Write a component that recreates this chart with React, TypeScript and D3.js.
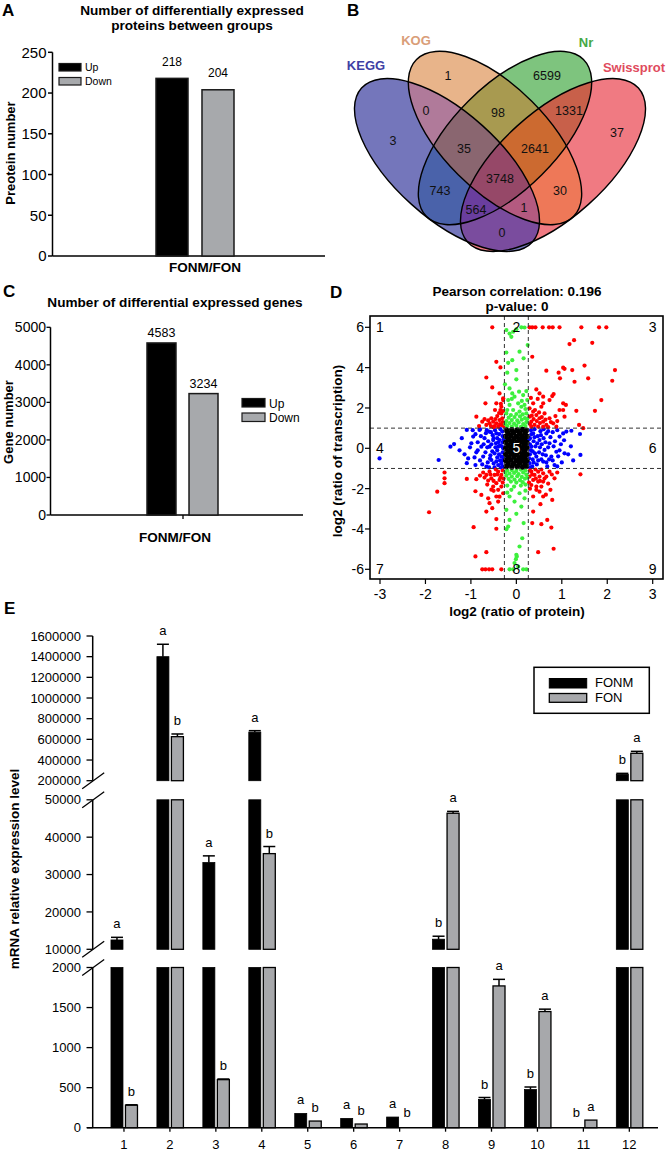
import React from "react";
import * as d3 from "d3";

const FONT = "Liberation Sans, Arial, Helvetica, sans-serif";

// ---------- Panel A data ----------
const protGroups = ["Up", "Down"];
const protCounts = [218, 204];
const protTicks = [0, 50, 100, 150, 200, 250];

// ---------- Panel C data ----------
const geneGroups = ["Up", "Down"];
const geneCounts = [4583, 3234];
const geneTicks = [0, 1000, 2000, 3000, 4000, 5000];

const groupFill: Record<string, string> = { Up: "#000000", Down: "#a7a9ac" };

// ---------- Panel B data ----------
const vennSets = ["KEGG", "KOG", "Nr", "Swissprot"];
const vennLabelColor = ["#4040a4", "#d99d78", "#45a845", "#e04b5d"];
const vennRegionNames = [
  "KEGG", "KOG", "KEGG&KOG", "KOG&Nr", "Nr", "Nr&Swissprot", "Swissprot",
  "KEGG&KOG&Nr", "KOG&Nr&Swissprot", "KEGG&KOG&Nr&Swissprot", "KEGG&Nr", "KOG&Swissprot",
  "KEGG&Nr&Swissprot", "KEGG&KOG&Swissprot", "KEGG&Swissprot",
];
const vennCounts = [3, 1, 0, 98, 6599, 1331, 37, 35, 2641, 3748, 743, 30, 564, 1, 0];
const vennRegionColor = [
  "#7476bb", "#e8b48a", "#b07a9a", "#a89a50", "#7ec47e", "#c8604a", "#f07a82",
  "#8a6670", "#cc6a30", "#964868", "#4a62aa", "#ee7858", "#6a3e9e", "#b45a80", "#7a4c9e",
];

// ---------- Panel D data (log2 protein ratio, log2 transcription ratio) ----------
const redPoints: [number, number][] = [
  [-0.53, 6], [0.29, 6], [0.35, 6], [0.42, 6], [0.58, 6], [0.72, 6], [0.8, 6], [0.95, 6], [1.43, 6], [1.82, 6], [1.98, 6],
  [1.17, 5.17], [1.27, 5.36], [1.67, 5.23], [0.35, 4.54], [-0.44, 4.29], [-0.35, 4.01], [1.03, 4.0], [1.06, 3.94],
  [0.66, 3.85], [1.23, 3.88], [1.5, 4.1], [2.17, 3.88], [0.93, 3.75], [0.96, 3.47], [1.28, 3.3], [1.58, 3.47],
  [2.11, 3.35], [-0.66, 3.51], [-0.53, 3.02], [-0.37, 2.72], [0.44, 2.92], [0.51, 2.72], [0.59, 2.56], [0.79, 2.59],
  [0.82, 2.69], [1.03, 2.23], [1.09, 2.15], [1.87, 2.39], [1.73, 1.86], [-0.68, 2.23], [-0.88, 1.57], [0.95, 1.9],
  [1.32, 1.86], [1.06, 1.57], [1.38, 1.16], [1.47, 1.0], [-0.29, 2.48], [0.59, 2.23], [0.73, 2.39], [1.03, 1.9],
  [-0.44, 2.23], [-0.33, 2.06], [-0.55, 1.49], [-0.51, 1.32], [-0.44, 1.24], [-0.37, 1.4], [-0.33, 1.73], [-0.4, 1.07],
  [-0.48, 1.1], [-0.59, 1.24], [-0.66, 1.16], [-0.75, 1.32], [-0.33, 1.16], [-0.31, 1.49], [-0.35, 1.9], [-0.29, 2.39],
  [-0.42, 1.6], [-0.3, 1.3], [-0.5, 1.05], [-0.28, 1.1],
  [-0.36, 1.2], [-0.46, 1.45], [-0.56, 1.1], [-0.62, 1.38], [-0.7, 1.45], [-0.82, 1.1], [-0.38, 1.75], [-0.47, 1.9],
  [-0.29, 1.85], [-0.34, 2.2],
  [0.29, 1.98], [0.37, 1.82], [0.44, 1.65], [0.51, 1.49], [0.59, 1.32], [0.66, 1.16], [0.33, 1.32], [0.4, 1.16],
  [0.48, 1.07], [0.29, 1.57], [0.62, 1.73], [0.73, 1.49], [0.37, 2.23], [0.55, 2.06], [0.81, 1.24], [0.88, 1.07],
  [0.33, 1.07], [0.59, 1.07], [0.3, 1.2], [0.45, 1.35], [0.7, 1.05], [0.52, 1.25], [0.38, 1.45],
  [0.34, 1.62], [0.41, 1.9], [0.5, 1.78], [0.56, 1.55], [0.64, 1.42], [0.76, 1.3], [0.86, 1.6], [0.32, 2.5],
  [0.47, 2.45], [0.9, 1.35],
  [-0.4, -1.16], [-0.48, -1.32], [-0.55, -1.49], [-0.37, -1.57], [-0.44, -1.73], [-0.51, -1.9], [-0.33, -1.9],
  [-0.4, -2.06], [-0.66, -1.32], [-0.73, -1.2], [-0.33, -1.32], [-0.29, -2.23], [-0.59, -1.16], [-0.3, -1.1],
  [-0.45, -1.05], [-0.62, -1.6], [-0.28, -1.5],
  [-0.35, -1.45], [-0.42, -1.3], [-0.5, -1.62], [-0.57, -1.3], [-0.64, -1.8], [-0.7, -1.45], [-0.8, -1.35],
  [-0.3, -1.7], [-0.37, -2.4], [-0.55, -2.05],
  [0.33, -1.16], [0.4, -1.32], [0.48, -1.16], [0.59, -1.24], [0.66, -1.4], [0.37, -1.57], [0.48, -1.65], [0.59, -1.65],
  [0.33, -1.82], [0.44, -2.06], [0.73, -1.16], [0.84, -1.49], [0.29, -1.4], [0.51, -1.4], [0.37, -2.39], [0.3, -1.1],
  [0.42, -1.05], [0.55, -1.05], [0.28, -1.7],
  [0.35, -1.3], [0.43, -1.5], [0.52, -1.62], [0.62, -1.5], [0.7, -1.75], [0.78, -1.3], [0.9, -1.2], [0.3, -2.0],
  [0.55, -1.9], [0.65, -2.3],
  [-0.88, -1.53], [-1.09, -1.52], [-1.58, -1.2], [-1.58, -1.49], [-1.58, -1.73], [-1.74, -2.15], [-1.92, -3.17],
  [-0.9, -2.13], [-0.94, -3.91], [-0.9, -5.36], [-0.66, -5.15], [-0.66, -3.14], [-0.53, -2.97], [-0.44, -3.51],
  [-0.44, -3.99], [-0.77, -2.31], [-0.62, -2.48], [-0.59, -2.72], [-0.5, -2.11], [-0.4, -2.64], [-0.44, -2.39],
  [-0.75, -6], [-0.68, -6], [-0.6, -6], [-0.53, -6], [-0.33, -6], [0.35, -3.71], [0.55, -3.76], [0.68, -3.55],
  [0.77, -3.93], [0.82, -4.98], [0.48, -5.15], [0.53, -2.77], [0.59, -2.39], [0.75, -2.06], [0.79, -2.56],
  [0.37, -3.14], [0.44, -1.9], [0.51, -2.15], [1.41, -1.29],
];
const greenPoints: [number, number][] = [
  [-0.22, 5.86], [-0.15, 5.69], [-0.07, 5.78], [0, 5.9], [0.11, 6], [0.18, 5.99], [-0.11, 5.53], [0.25, 5.12],
  [-0.22, 4.75], [0.07, 4.79], [-0.09, 4.37], [0.16, 4.46], [-0.18, 4.24], [0, 3.88], [-0.2, 3.75], [0, 3.42],
  [-0.25, 3.17], [-0.15, 2.97], [-0.09, 2.72], [0.06, 2.81], [0.15, 2.64], [-0.04, 2.56], [-0.18, 2.39], [0.22, 2.84],
  [0.24, 2.39], [-0.15, 2.15], [0.04, 2.23], [0.11, 2.06], [0.18, 2.15], [-0.07, 1.9], [0.07, 1.82], [-0.22, 1.73],
  [0.22, 1.73], [-0.2, 1.1], [-0.1, 1.08], [0, 1.12], [0.1, 1.06], [0.2, 1.1], [-0.15, 1.25], [-0.05, 1.22],
  [0.05, 1.28], [0.15, 1.2], [-0.22, 1.35], [-0.1, 1.4], [0.02, 1.38], [0.12, 1.42], [0.22, 1.3], [-0.17, 1.52],
  [-0.04, 1.55], [0.08, 1.58], [0.19, 1.5], [-0.12, 1.65], [0, 1.7], [0.14, 1.68], [-0.24, 1.2], [0.24, 1.45],
  [-0.2, 1.9], [0.2, 1.95], [0.12, 2.35], [-0.1, 2.45],
  [-0.2, -1.1], [-0.1, -1.08], [0, -1.12], [0.1, -1.06], [0.2, -1.1], [-0.15, -1.25], [-0.05, -1.22], [0.05, -1.28],
  [0.15, -1.2], [-0.22, -1.35], [-0.1, -1.4], [0.02, -1.38], [0.12, -1.42], [0.22, -1.3], [-0.17, -1.52],
  [-0.04, -1.55], [0.08, -1.58], [0.19, -1.5], [-0.12, -1.65], [0, -1.7], [0.14, -1.68], [-0.24, -1.2],
  [0.24, -1.45], [-0.2, -1.85], [0.1, -1.85], [-0.05, -1.9], [0.2, -1.8],
  [-0.11, -2.06], [0.07, -2.23], [-0.15, -2.39], [0.18, -2.48], [-0.04, -2.64], [-0.22, -3.05], [0.11, -2.89],
  [0, -3.25], [-0.15, -3.55], [0.16, -3.71], [-0.22, -4.01], [-0.18, -3.88], [0.13, -4.46], [0.07, -4.87],
  [0, -5.28], [0.01, -5.36], [-0.01, -5.5], [-0.15, -6], [-0.07, -6], [0.15, -6], [0.22, -6], [0.04, -5.86],
  [-0.04, -5.69], [-0.2, -2.2], [0.2, -2.1],
];
const bluePoints: [number, number][] = [
  [-3.01, -0.5], [-1.71, -0.58], [-1.37, 0.21], [-1.45, 0.08], [-1.09, 0.91], [-1.14, -0.3], [-1.06, -0.5],
  [-1.09, -0.74], [-0.99, 0.25], [-0.95, 0.58], [-0.9, -0.83], [-0.88, -0.2], [-0.81, 0.91], [-0.77, 0.08],
  [-0.73, -0.41], [-0.7, 0.5], [-0.66, -0.91], [-0.6, 0.83], [-0.59, 0.08], [-0.55, -0.58], [-0.51, 0.41],
  [-0.48, -0.25], [-0.44, 0.74], [-0.4, 0.08], [-0.4, -0.83], [-0.37, 0.41], [-0.33, -0.41], [-0.31, 0.83],
  [-0.29, 0], [-0.3, 0.6], [-0.3, 0.3], [-0.3, -0.2], [-0.3, -0.6], [-0.3, -0.9], [-0.35, 0.95], [-0.36, 0.15],
  [-0.36, -0.6], [-0.42, 0.5], [-0.42, -0.1], [-0.42, -0.45], [-0.45, 0.25], [-0.47, 0.9], [-0.5, -0.75],
  [-0.52, 0.65], [-0.55, 0.2], [-0.57, -0.35], [-0.62, 0.35], [-0.63, -0.7], [-0.67, 0.75], [-0.68, -0.2],
  [-0.72, 0.2], [-0.78, 0.6], [-0.8, -0.6], [-0.85, 0.3], [-0.92, -0.45], [-0.96, 0.9], [-1.02, 0.05],
  [-0.34, -0.95], [-0.6, -0.95], [-0.8, 0.95], [-0.48, -0.95], [-0.28, 0.45], [-0.28, -0.45], [-0.32, 0.1],
  [-0.33, -0.75], [-0.38, 0.7], [-0.38, -0.3], [-0.4, 0.3], [-0.44, -0.65], [-0.46, 0.05], [-0.5, 0.5],
  [-0.53, -0.15], [-0.56, 0.8], [-0.58, -0.5], [-0.64, 0.05],
  [-0.75, -0.8], [-0.85, -0.1], [-1.2, 0.5], [-1.25, -0.1], [-0.9, 0.7], [-0.65, 0.9],
  [1.03, 0.74], [1.1, 0.83], [1.21, 0.87], [1.4, 0.71], [1.41, -0.33], [1.06, -0.25], [1.14, -0.3], [0.88, -0.17],
  [0.95, 0.58], [0.84, -0.83], [0.77, -0.41], [0.73, 0.25], [0.66, 0.74], [0.62, -0.08], [0.59, -0.66],
  [0.51, 0.41], [0.44, -0.41], [0.37, 0.74], [0.33, 0.08], [0.29, -0.74], [0.3, 0.5], [0.3, 0.2], [0.3, -0.3],
  [0.3, -0.95], [0.32, 0.9], [0.36, -0.15], [0.36, -0.55], [0.38, 0.35], [0.4, 0.95], [0.42, 0.1], [0.45, -0.8],
  [0.47, 0.6], [0.5, -0.2], [0.53, 0.85], [0.55, -0.55], [0.56, 0.2], [0.6, 0.5], [0.65, -0.35], [0.68, -0.9],
  [0.7, 0.05], [0.75, 0.55], [0.8, -0.6], [0.85, 0.35], [0.9, 0.9], [0.92, -0.4], [0.98, 0.2], [1.0, -0.7],
  [0.35, -0.9], [0.6, 0.95], [0.8, 0.8], [0.28, 0.45], [0.28, -0.5], [0.32, -0.1], [0.33, 0.7], [0.38, -0.7],
  [0.4, 0.55], [0.41, -0.25], [0.46, 0.25], [0.48, -0.6], [0.52, 0.05], [0.54, 0.65], [0.58, -0.3], [0.64, 0.3],
  [0.66, -0.7], [0.72, -0.55], [0.82, 0.1], [0.9, -0.9], [1.2, 0.1], [1.25, -0.6], [0.95, -0.1], [0.7, 0.85],
  [1.05, 0.4],
];
const blackPoints: [number, number][] = [
  [-0.22, 0.9], [-0.1, 0.92], [0.02, 0.9], [0.14, 0.93], [0.22, 0.88], [-0.18, 0.75], [-0.06, 0.78], [0.07, 0.74],
  [0.19, 0.77], [-0.23, 0.6], [-0.12, 0.62], [0, 0.58], [0.12, 0.61], [0.23, 0.6], [-0.17, 0.45], [-0.05, 0.47],
  [0.07, 0.43], [0.18, 0.46], [-0.23, 0.3], [-0.11, 0.32], [0.01, 0.29], [0.13, 0.31], [0.23, 0.28], [-0.18, 0.15],
  [-0.06, 0.17], [0.06, 0.14], [0.18, 0.16], [-0.23, 0], [-0.12, 0.02], [0, -0.01], [0.12, 0.01], [0.23, 0.02],
  [-0.18, -0.15], [-0.06, -0.13], [0.06, -0.16], [0.18, -0.14], [-0.23, -0.3], [-0.11, -0.28], [0.01, -0.31],
  [0.13, -0.29], [0.23, -0.3], [-0.17, -0.45], [-0.05, -0.43], [0.07, -0.47], [0.18, -0.44], [-0.23, -0.6],
  [-0.12, -0.58], [0, -0.62], [0.12, -0.59], [0.23, -0.61], [-0.18, -0.75], [-0.06, -0.77], [0.07, -0.74],
  [0.19, -0.76], [-0.22, -0.9], [-0.1, -0.92], [0.02, -0.9], [0.14, -0.93], [0.22, -0.88],
];
const scatterXTicks = [-3, -2, -1, 0, 1, 2, 3];
const scatterYTicks = [-6, -4, -2, 0, 2, 4, 6];
const proteinCut = 0.263; // log2(1.2)
const transcriptCut = 1;

// ---------- Panel E data ----------
const eCategories = ["1", "2", "3", "4", "5", "6", "7", "8", "9", "10", "11", "12"];
const fonmValues = [12500, 1400000, 33200, 670000, 178, 116, 133, 12700, 352, 476, 0, 262000];
const fonmErrors = [700, 120000, 1800, 14000, 0, 0, 0, 800, 25, 32, 0, 9000];
const fonValues = [281, 626000, 600, 35600, 83, 46, 0, 46400, 1770, 1450, 95, 465000];
const fonErrors = [5, 26000, 8, 1900, 0, 0, 0, 500, 82, 30, 0, 19000];
const fonmLetters = ["a", "a", "a", "a", "a", "a", "a", "b", "b", "b", "b", "b"];
const fonLetters = ["b", "b", "b", "b", "b", "b", "b", "a", "a", "a", "a", "a"];
const eTicksLow = [0, 500, 1000, 1500, 2000];
const eTicksMid = [10000, 20000, 30000, 40000, 50000];
const eTicksHigh = [200000, 400000, 600000, 800000, 1000000, 1200000, 1400000, 1600000];

const BLACK = "#000";
const GRAY = "#a7a8ab";

function PanelA() {
  const y = d3.scaleLinear().domain([0, 250]).range([256, 52.3]);
  const x = d3.scaleBand().domain(protGroups).range([156, 234]).paddingInner(0.304);
  const axX = 52.5;
  return (
    <g>
      <text x={2} y={16} fontSize={17} fontWeight="bold">A</text>
      <text x={192} y={15} textAnchor="middle" fontSize={13.6} fontWeight="bold">Number of differentially expressed</text>
      <text x={192} y={30} textAnchor="middle" fontSize={13.6} fontWeight="bold">proteins between groups</text>
      {protTicks.map((t) => (
        <g key={t}>
          <line x1={48} x2={axX} y1={y(t)} y2={y(t)} stroke={BLACK} strokeWidth={1.5} />
          <text x={46.5} y={y(t) + 5.3} textAnchor="end" fontSize={15}>{t}</text>
        </g>
      ))}
      <line x1={axX} x2={axX} y1={y(250)} y2={y(0)} stroke={BLACK} strokeWidth={1.5} />
      <line x1={axX} x2={325} y1={y(0)} y2={y(0)} stroke={BLACK} strokeWidth={1.5} />
      {protGroups.map((g, i) => (
        <g key={g}>
          <rect x={x(g)} y={y(protCounts[i])} width={x.bandwidth()} height={y(0) - y(protCounts[i])}
            fill={groupFill[g]} stroke="#1a1a1a" strokeWidth={1.5} />
          <text x={(x(g) as number) + x.bandwidth() / 2} y={y(protCounts[i]) - 12.5} textAnchor="middle" fontSize={12}>{protCounts[i]}</text>
        </g>
      ))}
      {protGroups.map((g, i) => (
        <g key={"lg" + g}>
          <rect x={59} y={63.5 + i * 14} width={22} height={7.5} fill={groupFill[g]} stroke="#1a1a1a" strokeWidth={1.2} />
          <text x={85} y={71 + i * 14} fontSize={10.5}>{g}</text>
        </g>
      ))}
      <text x={205} y={272} textAnchor="middle" fontSize={13.5} fontWeight="bold">FONM/FON</text>
      <text transform="translate(14.5,153) rotate(-90)" textAnchor="middle" fontSize={13} fontWeight="bold">Preotein number</text>
    </g>
  );
}

function PanelC() {
  const y = d3.scaleLinear().domain([0, 5000]).range([515, 327.3]);
  const x = d3.scaleBand().domain(geneGroups).range([147, 218]).paddingInner(0.31);
  const axX = 50.5;
  return (
    <g>
      <text x={3} y={297} fontSize={17} fontWeight="bold">C</text>
      <text x={175} y={307} textAnchor="middle" fontSize={13.6} fontWeight="bold">Number of differential expressed genes</text>
      {geneTicks.map((t) => (
        <g key={t}>
          <line x1={46.5} x2={axX} y1={y(t)} y2={y(t)} stroke={BLACK} strokeWidth={1.3} />
          <text x={46} y={y(t) + 5} textAnchor="end" fontSize={14}>{t}</text>
        </g>
      ))}
      <line x1={axX} x2={axX} y1={y(5000)} y2={y(0)} stroke={BLACK} strokeWidth={1.5} />
      <line x1={axX} x2={303} y1={y(0)} y2={y(0)} stroke={BLACK} strokeWidth={1.5} />
      <line x1={183} x2={183} y1={y(0)} y2={y(0) + 4} stroke={BLACK} strokeWidth={1.3} />
      {geneGroups.map((g, i) => (
        <g key={g}>
          <rect x={x(g)} y={y(geneCounts[i])} width={x.bandwidth()} height={y(0) - y(geneCounts[i])}
            fill={groupFill[g]} stroke="#1a1a1a" strokeWidth={1.5} />
          <text x={(x(g) as number) + x.bandwidth() / 2} y={y(geneCounts[i]) - 5.5} textAnchor="middle" fontSize={12.5}>{geneCounts[i]}</text>
        </g>
      ))}
      {geneGroups.map((g, i) => (
        <g key={"lg" + g}>
          <rect x={242} y={398.5 + i * 14.5} width={23} height={8.5} fill={groupFill[g]} stroke="#1a1a1a" strokeWidth={1.2} />
          <text x={269} y={407.5 + i * 14.5} fontSize={12}>{g}</text>
        </g>
      ))}
      <text x={175} y={542} textAnchor="middle" fontSize={13.5} fontWeight="bold">FONM/FON</text>
      <text transform="translate(13,422) rotate(-90)" textAnchor="middle" fontSize={13} fontWeight="bold">Gene number</text>
    </g>
  );
}

// Venn layout (relative units, centred on the diagram middle)
const vennEllipses = [
  { cx: -53, cy: 15, a: 115, b: 53, rot: 42 },
  { cx: -5, cy: -12, a: 111, b: 52, rot: 45 },
  { cx: 5, cy: -12, a: 111, b: 52, rot: -45 },
  { cx: 53, cy: 15, a: 115, b: 53, rot: -42 },
];
const vennRegionPos: [number, number][] = [
  [-107, -10], [-52, -75], [-74, -40], [-2, -38], [47, -75], [69, -40], [117, -18],
  [-36, -2], [35, -2], [0, 28], [-60, 40], [60, 40], [-24, 59], [24, 57], [2, 82],
];
const vennLabelPos: [number, number][] = [[-134, -85], [-84, -110], [86, -108], [134, -83]];

function PanelB() {
  const x = d3.scaleLinear().domain([-150, 150]).range([350, 650]);
  const y = d3.scaleLinear().domain([-150, 150]).range([0, 300]);
  const k = x(1) - x(0);
  const ell = (i: number, props: any) => {
    const e = vennEllipses[i];
    return (
      <ellipse cx={0} cy={0} rx={e.a * k} ry={e.b * k}
        transform={`translate(${x(e.cx)},${y(e.cy)}) rotate(${e.rot})`} {...props} />
    );
  };
  const members = vennRegionNames.map((n) => n.split("&").map((s) => vennSets.indexOf(s)));
  return (
    <g>
      <text x={347} y={16} fontSize={17} fontWeight="bold">B</text>
      <defs>
        {vennSets.map((s, i) => (
          <clipPath key={"vc" + i} id={"vclip" + i}>{ell(i, {})}</clipPath>
        ))}
        {members.map((m, ri) => (
          <mask key={"vm" + ri} id={"vmask" + ri} maskUnits="userSpaceOnUse" x={330} y={20} width={337} height={260}>
            <rect x={330} y={20} width={337} height={260} fill="#fff" />
            {vennSets.map((s, i) => (m.includes(i) ? null : <g key={i}>{ell(i, { fill: "#000" })}</g>))}
          </mask>
        ))}
      </defs>
      {members.map((m, ri) => {
        const inner = (
          <rect x={330} y={20} width={337} height={260} fill={vennRegionColor[ri]} mask={`url(#vmask${ri})`} />
        );
        return (
          <g key={"reg" + ri}>
            {m.reduceRight((child, si) => <g clipPath={`url(#vclip${si})`}>{child}</g>, inner)}
          </g>
        );
      })}
      {vennSets.map((s, i) => (
        <g key={"s" + i}>{ell(i, { fill: "none", stroke: "#000", strokeWidth: 1.4 })}</g>
      ))}
      {vennCounts.map((c, i) => (
        <text key={vennRegionNames[i]} x={x(vennRegionPos[i][0])} y={y(vennRegionPos[i][1]) + 4.5}
          textAnchor="middle" fontSize={12.5} fill="#111">{c}</text>
      ))}
      {vennSets.map((s, i) => (
        <text key={s} x={x(vennLabelPos[i][0])} y={y(vennLabelPos[i][1]) + 4.5} textAnchor="middle"
          fontSize={13} fontWeight="bold" fill={vennLabelColor[i]}>{s}</text>
      ))}
    </g>
  );
}

function PanelD() {
  const x = d3.scaleLinear().domain([-3, 3]).range([380, 652.7]);
  const y = d3.scaleLinear().domain([-6, 6]).range([569.3, 327.3]);
  const box = { l: 370, r: 663, t: 316, b: 579 };
  const quadNums: [number, number, string][] = [
    [-3, 6, "1"], [0, 6, "2"], [3, 6, "3"], [-3, 0, "4"], [0, 0, "5"], [3, 0, "6"], [-3, -6, "7"], [0, -6, "8"], [3, -6, "9"],
  ];
  const groups: [[number, number][], string][] = [
    [bluePoints, "#0000ff"], [redPoints, "#ff0000"], [greenPoints, "#3df03d"], [blackPoints, "#000000"],
  ];
  return (
    <g>
      <text x={330} y={298} fontSize={17} fontWeight="bold">D</text>
      <text x={517} y={296} textAnchor="middle" fontSize={13.5} fontWeight="bold">Pearson correlation: 0.196</text>
      <text x={517} y={310.5} textAnchor="middle" fontSize={13.5} fontWeight="bold">p-value: 0</text>
      <defs>
        <clipPath id="dclip"><rect x={box.l} y={box.t} width={box.r - box.l} height={box.b - box.t} /></clipPath>
      </defs>
      <g clipPath="url(#dclip)">
        {groups.map(([pts, col], gi) => (
          <g key={gi} fill={col}>
            {pts.map((p, i) => (
              <circle key={i} cx={x(p[0])} cy={y(p[1])} r={gi === 3 ? 2.8 : 2.1} />
            ))}
          </g>
        ))}
      </g>
      {[-proteinCut, proteinCut].map((v) => (
        <line key={"v" + v} x1={x(v)} x2={x(v)} y1={box.t} y2={box.b} stroke="#333" strokeWidth={1} strokeDasharray="4,3" />
      ))}
      {[-transcriptCut, transcriptCut].map((v) => (
        <line key={"h" + v} x1={box.l} x2={box.r} y1={y(v)} y2={y(v)} stroke="#333" strokeWidth={1} strokeDasharray="4,3" />
      ))}
      {quadNums.map(([qx, qy, s]) => (
        <text key={s} x={x(qx)} y={y(qy) + 5} textAnchor="middle" fontSize={14} fill={s === "5" ? "#fff" : "#000"}>{s}</text>
      ))}
      <rect x={box.l} y={box.t} width={box.r - box.l} height={box.b - box.t} fill="none" stroke="#000" strokeWidth={1.6} />
      {scatterXTicks.map((t) => (
        <g key={"xt" + t}>
          <line x1={x(t)} x2={x(t)} y1={box.b} y2={box.b + 5} stroke="#000" strokeWidth={1.2} />
          <text x={x(t)} y={599} textAnchor="middle" fontSize={14}>{t}</text>
        </g>
      ))}
      {scatterYTicks.map((t) => (
        <g key={"yt" + t}>
          <line x1={box.l - 5} x2={box.l} y1={y(t)} y2={y(t)} stroke="#000" strokeWidth={1.2} />
          <text x={364} y={y(t) + 5} textAnchor="end" fontSize={14}>{t}</text>
        </g>
      ))}
      <text x={517} y={616} textAnchor="middle" fontSize={13.5} fontWeight="bold">log2 (ratio of protein)</text>
      <text transform="translate(342,451) rotate(-90)" textAnchor="middle" fontSize={13.5} fontWeight="bold">log2 (ratio of transcription)</text>
    </g>
  );
}

function PanelE() {
  const segDomains: [number, number][] = [[0, 2000], [10000, 50000], [200000, 1600000]];
  const segRanges: [number, number][] = [[1127.7, 967.5], [949.3, 799.8], [780.7, 636]];
  const segTicks = [eTicksLow, eTicksMid, eTicksHigh];
  const scales = segDomains.map((d, i) => d3.scaleLinear().domain(d).range(segRanges[i]));
  const yOf = (v: number) => {
    for (let i = 0; i < segDomains.length; i++) if (v <= segDomains[i][1]) return scales[i](Math.max(v, segDomains[i][0]));
    return scales[2](v);
  };
  const xb = d3.scaleBand().domain(eCategories).range([101, 652.3]);
  const axX = 92.7;
  const bw = 12;
  const series = [
    { vals: fonmValues, errs: fonmErrors, letters: fonmLetters, fill: BLACK, off: -13 },
    { vals: fonValues, errs: fonErrors, letters: fonLetters, fill: GRAY, off: 1.5 },
  ];
  const breaks = [segRanges[0][1], segRanges[1][0], segRanges[1][1], segRanges[2][0]];
  return (
    <g>
      <text x={4} y={614} fontSize={17} fontWeight="bold">E</text>
      {segRanges.map((r, i) => (
        <line key={"ax" + i} x1={axX} x2={axX} y1={r[0]} y2={r[1]} stroke="#000" strokeWidth={1.5} />
      ))}
      {breaks.map((b, i) => (
        <line key={"br" + i} x1={axX - 10.5} x2={axX + 11.5} y1={b + 8} y2={b - 8} stroke="#000" strokeWidth={1.3} />
      ))}
      {segTicks.map((ts, si) => ts.map((t) => (
        <g key={"t" + si + "-" + t}>
          <line x1={86.5} x2={axX} y1={scales[si](t)} y2={scales[si](t)} stroke="#000" strokeWidth={1.3} />
          <text x={81} y={scales[si](t) + 4.6} textAnchor="end" fontSize={13}>{t}</text>
        </g>
      )))}
      <line x1={87} x2={658} y1={segRanges[0][0]} y2={segRanges[0][0]} stroke="#000" strokeWidth={1.5} />
      {eCategories.map((c) => {
        const cx = (xb(c) as number) + xb.bandwidth() / 2;
        return (
          <g key={"c" + c}>
            <line x1={cx} x2={cx} y1={segRanges[0][0]} y2={segRanges[0][0] + 4} stroke="#000" strokeWidth={1.3} />
            <text x={cx} y={1148.5} textAnchor="middle" fontSize={13}>{c}</text>
          </g>
        );
      })}
      {series.map((s, si) => eCategories.map((c, ci) => {
        const v = s.vals[ci];
        const err = s.errs[ci];
        const x0 = (xb(c) as number) + xb.bandwidth() / 2 + s.off;
        const pieces = segDomains.map((d, di) => {
          if (v <= d[0]) return null;
          const top = scales[di](Math.min(v, d[1]));
          const bot = scales[di](d[0]);
          return (
            <rect key={di} x={x0} y={top} width={bw} height={bot - top} fill={s.fill}
              stroke="#000" strokeWidth={s.fill === BLACK ? 0.8 : 1.3} />
          );
        });
        const topY = yOf(v + err);
        return (
          <g key={"b" + si + "-" + c}>
            {pieces}
            {v > 0 && err > 0 && (
              <g stroke="#000" strokeWidth={1.5}>
                <line x1={x0 + bw / 2} x2={x0 + bw / 2} y1={yOf(v)} y2={topY} />
                <line x1={x0} x2={x0 + bw} y1={topY} y2={topY} />
              </g>
            )}
            <text x={x0 + bw / 2} y={v > 0 ? topY - 9 : topY - 11} textAnchor="middle" fontSize={13}>{s.letters[ci]}</text>
          </g>
        );
      }))}
      <rect x={534} y={667.3} width={115.3} height={46} fill="#fff" stroke="#000" strokeWidth={1.5} />
      <rect x={549.3} y={678.5} width={37.4} height={9.5} fill={BLACK} stroke="#000" strokeWidth={1} />
      <rect x={549.3} y={693.5} width={37.4} height={8.8} fill={GRAY} stroke="#000" strokeWidth={1.3} />
      <text x={595} y={686.5} fontSize={13}>FONM</text>
      <text x={595} y={701.5} fontSize={13}>FON</text>
      <text transform="translate(19,869) rotate(-90)" textAnchor="middle" fontSize={13.5} fontWeight="bold">mRNA relative expression level</text>
    </g>
  );
}

export default function App() {
  return (
    <svg width={667} height={1150} style={{ position: "absolute", left: 0, top: 0, background: "#fff" }} fontFamily={FONT}>
      <rect width={667} height={1150} fill="#fff" />
      <PanelA />
      <PanelB />
      <PanelC />
      <PanelD />
      <PanelE />
    </svg>
  );
}
